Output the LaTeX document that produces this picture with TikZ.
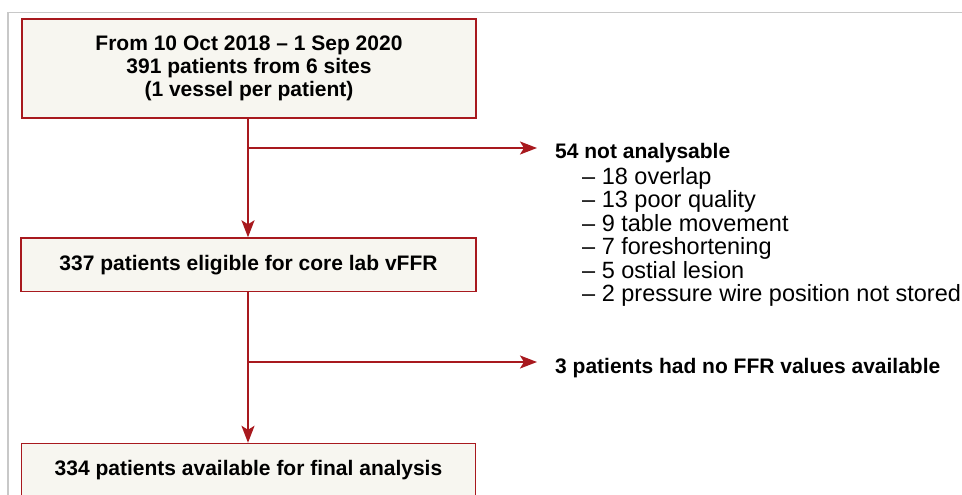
\documentclass[tikz,border=0pt]{standalone}
\usepackage{fontspec}
\setmainfont{Liberation Sans}
\usetikzlibrary{arrows.meta}
\definecolor{flowred}{HTML}{A8191E}
\definecolor{boxfill}{HTML}{F7F6F0}
\definecolor{framegray}{HTML}{C8C8C8}
\tikzset{
  boldtext/.style={font=\bfseries\fontsize{21}{23.3}\selectfont},
  stagebox/.style={draw=flowred, line width=1.4pt, fill=boxfill, inner sep=0pt,
    align=center, boldtext},
  flow/.style={draw=flowred, line width=2pt,
    -{Stealth[length=17pt,width=13pt,inset=4pt]}},
  headlbl/.style={anchor=base west, inner sep=0pt, boldtext},
  itemlbl/.style={anchor=base west, inner sep=0pt, font=\fontsize{23.5}{23.5}\selectfont}
}
\begin{document}
\begin{tikzpicture}[x=1pt,y=-1pt]
  \useasboundingbox (0,0) rectangle (962,495);
  \begin{scope}
    \clip (0,0) rectangle (962,495);
    % outer frame
    \draw[framegray, line width=1.5pt] (8,520) -- (8,12.5) -- (970,12.5);
    % stage boxes
    \node[stagebox, minimum width=454pt, minimum height=99pt] (start) at (249,68.5)
      {From 10 Oct 2018 – 1 Sep 2020\\391 patients from 6 sites\\(1 vessel per patient)};
    \node[stagebox, minimum width=455pt, minimum height=53.5pt] (elig) at (248.5,264.75)
      {337 patients eligible for core lab vFFR};
    \node[stagebox, minimum width=454pt, minimum height=54pt] (final) at (248.5,470.5)
      {334 patients available for final analysis};
  \end{scope}
  % exclusion labels
  \node[headlbl] (na) at (555,158.3) {54 not analysable};
  \node[itemlbl] (i1) at (582,184.2) {– 18 overlap};
  \node[itemlbl] (i2) at (582,207.7) {– 13 poor quality};
  \node[itemlbl] (i3) at (582,231.2) {– 9 table movement};
  \node[itemlbl] (i4) at (582,254.7) {– 7 foreshortening};
  \node[itemlbl] (i5) at (582,278.2) {– 5 ostial lesion};
  \node[itemlbl] (i6) at (582,301.7) {– 2 pressure wire position not stored};
  \node[headlbl] (noffr) at (555,373.5) {3 patients had no FFR values available};
  % branch points on the main trunk
  \coordinate (b1) at (248,148);
  \coordinate (b2) at (248,362);
  % connectors
  \draw[flow] (start.south -| b1) -- (elig.north -| b1);
  \draw[flow] (elig.south -| b2) -- (final.north -| b2);
  \draw[flow, shorten >=18pt] (b1) -- (b1 -| na.west);
  \draw[flow, shorten >=18pt] (b2) -- (b2 -| noffr.west);
\end{tikzpicture}
\end{document}
